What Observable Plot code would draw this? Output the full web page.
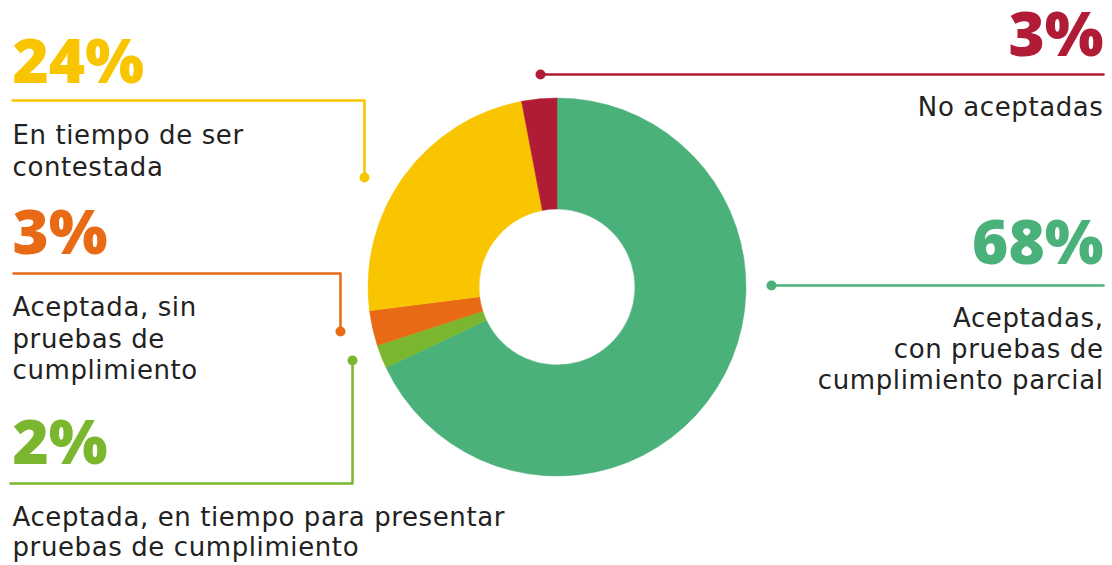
<!DOCTYPE html>
<html>
<head>
<meta charset="utf-8">
<script src="https://cdn.jsdelivr.net/npm/d3@7"></script>
<script src="https://cdn.jsdelivr.net/npm/@observablehq/plot@0.6"></script>
<style>
  html, body { margin: 0; padding: 0; background: #fff; }
  #chart svg { display: block; }
  #chart g[font-family="DejaVu Sans"] text { letter-spacing: 0.6px; }
</style>
</head>
<body>
<div id="chart"></div>
<script>
// ---- Data ----
const categories = [
  "Aceptadas, con pruebas de cumplimiento parcial",
  "Aceptada, en tiempo para presentar pruebas de cumplimiento",
  "Aceptada, sin pruebas de cumplimiento",
  "En tiempo de ser contestada",
  "No aceptadas"
];
const values = [68, 2, 3, 24, 3];
const colors = ["#4BB17B", "#7AB72E", "#E86A14", "#F9C500", "#B01C36"];
const percentLabels = ["68%", "2%", "3%", "24%", "3%"];
const descriptionLines = [
  ["Aceptadas,", "con pruebas de", "cumplimiento parcial"],
  ["Aceptada, en tiempo para presentar", "pruebas de cumplimiento"],
  ["Aceptada, sin", "pruebas de", "cumplimiento"],
  ["En tiempo de ser", "contestada"],
  ["No aceptadas"]
];

// ---- Layout (positions / styles, not data) ----
const W = 1112, H = 565;
const center = {x: 557, y: 287};
const outerR = 189, innerR = 78;
const layout = [
  // green
  {anchor: "end", tx: 1103, pctY: 263, descY: [326, 357, 388],
   path: [[771, 285], [1103, 285]], dot: [771, 285]},
  // light green
  {anchor: "start", tx: 12, pctY: 463, descY: [525, 555],
   path: [[10, 483], [352, 483], [352, 360]], dot: [352, 360]},
  // orange
  {anchor: "start", tx: 12, pctY: 253, descY: [315, 347, 378],
   path: [[13, 273], [340, 273], [340, 331]], dot: [340, 331]},
  // yellow
  {anchor: "start", tx: 12, pctY: 82, descY: [143, 175],
   path: [[12, 100], [364, 100], [364, 177]], dot: [364, 177]},
  // red
  {anchor: "end", tx: 1103, pctY: 55, descY: [115],
   path: [[540, 74], [1103, 74]], dot: [540, 74]}
];

const rows = categories.map((c, i) => ({
  category: c, value: values[i], color: colors[i],
  pct: percentLabels[i], ...layout[i]
}));

const lineRows = rows.flatMap((r, i) => r.path.map(([x, y]) => ({x, y, i, color: r.color})));
const descRows = rows.flatMap((r, i) => descriptionLines[i].map((t, j) => ({
  text: t, x: r.tx, y: r.descY[j], anchor: r.anchor
})));

// Donut as custom mark using Plot's scales
function donut(index, scales, values_, dimensions, context) {
  const cx = scales.x(center.x), cy = scales.y(center.y);
  const ro = scales.x(center.x + outerR) - cx;
  const ri = scales.x(center.x + innerR) - cx;
  const pie = d3.pie().sort(null).value(d => d.value).startAngle(0).endAngle(2 * Math.PI);
  const arc = d3.arc().innerRadius(ri).outerRadius(ro);
  const g = d3.create("svg:g").attr("transform", `translate(${cx},${cy})`);
  g.selectAll("path").data(pie(rows)).join("path")
    .attr("d", arc)
    .attr("fill", d => d.data.color)
    .attr("stroke", d => d.data.color)
    .attr("stroke-width", 0.5);
  return g.node();
}

const pctStyle = {fontSize: 62, fontWeight: 800, fontFamily: "Open Sans", lineAnchor: "bottom"};
const descStyle = {fontSize: 26, fontFamily: "DejaVu Sans", fill: "#222222", lineAnchor: "bottom"};

const chart = Plot.plot({
  width: W, height: H, margin: 0,
  x: {domain: [0, W], range: [0, W], axis: null},
  y: {domain: [0, H], range: [0, H], axis: null},
  style: {background: "#fff"},
  marks: [
    donut,
    Plot.line(lineRows, {x: "x", y: "y", z: "i", stroke: d => d.color, strokeWidth: 2.5, curve: "linear"}),
    Plot.dot(rows, {x: d => d.dot[0], y: d => d.dot[1], r: 5, fill: d => d.color, stroke: "none"}),
    Plot.text(rows.filter(r => r.anchor === "start"), {
      x: "tx", y: "pctY", text: "pct", fill: "color", textAnchor: "start", ...pctStyle
    }),
    Plot.text(rows.filter(r => r.anchor === "end"), {
      x: "tx", y: "pctY", text: "pct", fill: "color", textAnchor: "end", ...pctStyle
    }),
    Plot.text(descRows.filter(r => r.anchor === "start"), {
      x: "x", y: "y", text: "text", textAnchor: "start", ...descStyle
    }),
    Plot.text(descRows.filter(r => r.anchor === "end"), {
      x: "x", y: "y", text: "text", textAnchor: "end", ...descStyle
    })
  ]
});
document.getElementById("chart").appendChild(chart);
</script>
</body>
</html>
